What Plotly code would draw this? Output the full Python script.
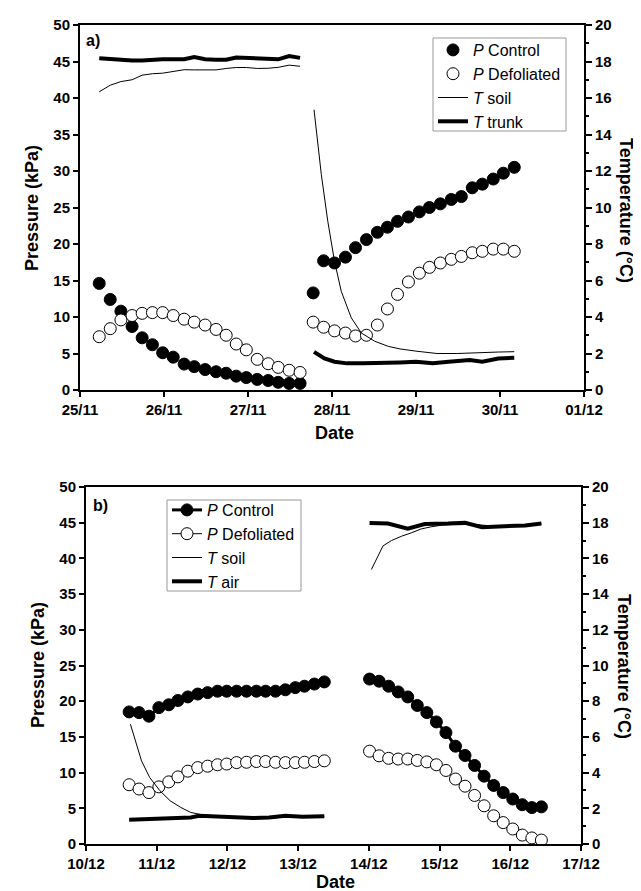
import plotly.graph_objects as go
from plotly.subplots import make_subplots

# ---------------- Panel a) data (x = days after 25/11 00:00) ----------------
a_tick_labels = ["25/11", "26/11", "27/11", "28/11", "29/11", "30/11", "01/12"]

a_x1 = [0.229, 0.36, 0.487, 0.62, 0.74, 0.862, 0.984, 1.11, 1.24, 1.36,
        1.49, 1.62, 1.74, 1.86, 1.98, 2.11, 2.24, 2.36, 2.49, 2.62]
a_ctrl1 = [14.6, 12.4, 10.8, 8.7, 7.15, 6.2, 5.1, 4.5, 3.55, 3.2,
           2.8, 2.5, 2.3, 1.9, 1.7, 1.45, 1.3, 1.05, 0.9, 0.9]
a_def1 = [7.3, 8.4, 9.6, 10.2, 10.5, 10.6, 10.6, 10.2, 9.7, 9.3,
          8.9, 8.3, 7.5, 6.3, 5.5, 4.2, 3.6, 3.1, 2.7, 2.4]
a_trunk1 = [18.18, 18.12, 18.07, 18.05, 18.05, 18.1, 18.12, 18.12, 18.13, 18.25,
            18.12, 18.1, 18.1, 18.22, 18.2, 18.13, 18.15, 18.12, 18.3, 18.2]
a_soil1 = [16.34, 16.7, 16.9, 17.0, 17.25, 17.33, 17.36, 17.45, 17.55, 17.54,
           17.54, 17.54, 17.62, 17.67, 17.67, 17.62, 17.63, 17.68, 17.8, 17.74]

a_x2 = [2.776, 2.90, 3.03, 3.16, 3.28, 3.41, 3.54, 3.66, 3.78, 3.91,
        4.04, 4.16, 4.29, 4.42, 4.54, 4.67, 4.79, 4.92, 5.04, 5.17]
a_ctrl2 = [13.3, 17.7, 17.4, 18.2, 19.5, 20.6, 21.6, 22.3, 23.1, 23.7,
           24.4, 25.0, 25.5, 26.1, 26.5, 27.7, 28.2, 28.9, 29.7, 30.5]
a_def2 = [9.3, 8.6, 8.1, 7.8, 7.4, 7.5, 8.9, 11.1, 13.1, 14.8,
          16.0, 16.8, 17.4, 17.9, 18.3, 18.8, 19.0, 19.3, 19.3, 19.0]

a_soil2_x = [2.786, 2.873, 2.95, 3.03, 3.11, 3.23, 3.35, 3.51, 3.67, 3.81,
             4.0, 4.25, 4.49, 4.73, 4.98, 5.17]
a_soil2 = [15.36, 11.8, 9.24, 7.05, 5.41, 3.95, 3.12, 2.67, 2.39, 2.25,
           2.13, 2.0, 2.0, 2.02, 2.08, 2.1]
a_trunk2_x = [2.786, 2.91, 3.03, 3.18, 3.37, 3.61, 3.81, 4.0, 4.2, 4.39,
              4.64, 4.79, 4.98, 5.17]
a_trunk2 = [2.09, 1.73, 1.55, 1.46, 1.46, 1.46, 1.51, 1.55, 1.46, 1.55,
            1.64, 1.55, 1.73, 1.77]

# ---------------- Panel b) data (x = days after 10/12 00:00) ----------------
b_tick_labels = ["10/12", "11/12", "12/12", "13/12", "14/12", "15/12", "16/12", "17/12"]

b_x1 = [0.61, 0.75, 0.89, 1.03, 1.17, 1.30, 1.44, 1.58, 1.72, 1.86, 1.99,
        2.13, 2.27, 2.41, 2.54, 2.68, 2.82, 2.96, 3.09, 3.23, 3.37]
b_ctrl1 = [18.5, 18.4, 17.9, 19.1, 19.5, 20.1, 20.6, 21.0, 21.2, 21.4, 21.4,
           21.4, 21.4, 21.4, 21.4, 21.4, 21.6, 21.9, 22.1, 22.4, 22.7]
b_def1 = [8.3, 7.7, 7.2, 8.0, 8.7, 9.4, 10.2, 10.7, 10.9, 11.1, 11.2,
          11.4, 11.45, 11.55, 11.55, 11.45, 11.4, 11.4, 11.45, 11.55, 11.65]

b_x2 = [4.01, 4.145, 4.28, 4.415, 4.55, 4.685, 4.82, 4.955, 5.09, 5.225,
        5.36, 5.495, 5.63, 5.765, 5.90, 6.035, 6.17, 6.305, 6.44]
b_ctrl2 = [23.1, 22.8, 22.1, 21.3, 20.6, 19.4, 18.4, 17.1, 15.6, 13.7,
           12.4, 11.0, 9.5, 8.2, 7.2, 6.3, 5.5, 5.1, 5.2]
b_def2 = [13.0, 12.35, 12.0, 11.9, 11.9, 11.7, 11.5, 11.1, 10.3, 9.1,
          8.1, 6.8, 5.35, 3.95, 3.0, 2.1, 1.25, 0.85, 0.55]

b_air1_x = [0.61, 0.9, 1.19, 1.48, 1.6, 1.77, 2.07, 2.36, 2.59, 2.82, 3.06, 3.37]
b_air1 = [1.36, 1.4, 1.44, 1.49, 1.58, 1.55, 1.45, 1.45, 1.49, 1.58, 1.52, 1.55]
b_soil1_x = [0.628, 0.698, 0.785, 0.90, 1.047, 1.19, 1.34, 1.48, 1.66, 1.89,
             2.12, 2.36, 2.65, 2.94, 3.37]
b_soil1 = [6.71, 5.78, 4.66, 3.73, 2.98, 2.42, 2.05, 1.77, 1.62, 1.55,
           1.49, 1.46, 1.46, 1.55, 1.55]
b_air2_x = [4.01, 4.27, 4.55, 4.79, 5.12, 5.36, 5.6, 5.97, 6.21, 6.44]
b_air2 = [17.99, 17.95, 17.67, 17.93, 17.95, 17.99, 17.75, 17.8, 17.85, 17.95]
b_soil2_x = [4.036, 4.11, 4.2, 4.32, 4.46, 4.6, 4.74, 4.88, 5.03, 5.36, 5.79, 6.44]
b_soil2 = [15.38, 16.0, 16.7, 17.0, 17.24, 17.43, 17.65, 17.77, 17.86, 17.95, 17.8, 17.93]


def join(a, b):
    return list(a) + [None] + list(b)


W, H = 641, 891


def px(x):
    return x / W


def py(y):
    return 1 - y / H


FONT = "Liberation Sans, Arial, sans-serif"
BLACK = "black"

fig = make_subplots(rows=2, cols=1, specs=[[{"secondary_y": True}], [{"secondary_y": True}]])

# ---- panel a traces ----
fig.add_trace(go.Scatter(x=join(a_x1, a_x2), y=join(a_ctrl1, a_ctrl2), mode="markers",
                         name="<i>P</i> Control", legend="legend",
                         marker=dict(size=12, color=BLACK, line=dict(color=BLACK, width=1))),
              row=1, col=1, secondary_y=False)
fig.add_trace(go.Scatter(x=join(a_x1, a_x2), y=join(a_def1, a_def2), mode="markers",
                         name="<i>P</i> Defoliated", legend="legend",
                         marker=dict(size=12, color="white", line=dict(color=BLACK, width=1))),
              row=1, col=1, secondary_y=False)
fig.add_trace(go.Scatter(x=join(a_x1, a_soil2_x), y=join(a_soil1, a_soil2), mode="lines",
                         name="<i>T</i> soil", legend="legend",
                         line=dict(color=BLACK, width=1)),
              row=1, col=1, secondary_y=True)
fig.add_trace(go.Scatter(x=join(a_x1, a_trunk2_x), y=join(a_trunk1, a_trunk2), mode="lines",
                         name="<i>T</i> trunk", legend="legend",
                         line=dict(color=BLACK, width=4)),
              row=1, col=1, secondary_y=True)

# ---- panel b traces ----
fig.add_trace(go.Scatter(x=join(b_x1, b_x2), y=join(b_ctrl1, b_ctrl2), mode="lines+markers",
                         name="<i>P</i> Control", legend="legend2",
                         line=dict(color=BLACK, width=3),
                         marker=dict(size=12, color=BLACK, line=dict(color=BLACK, width=1))),
              row=2, col=1, secondary_y=False)
fig.add_trace(go.Scatter(x=join(b_x1, b_x2), y=join(b_def1, b_def2), mode="lines+markers",
                         name="<i>P</i> Defoliated", legend="legend2",
                         line=dict(color=BLACK, width=1),
                         marker=dict(size=12, color="white", line=dict(color=BLACK, width=1))),
              row=2, col=1, secondary_y=False)
fig.add_trace(go.Scatter(x=join(b_soil1_x, b_soil2_x), y=join(b_soil1, b_soil2), mode="lines",
                         name="<i>T</i> soil", legend="legend2",
                         line=dict(color=BLACK, width=1)),
              row=2, col=1, secondary_y=True)
fig.add_trace(go.Scatter(x=join(b_air1_x, b_air2_x), y=join(b_air1, b_air2), mode="lines",
                         name="<i>T</i> air", legend="legend2",
                         line=dict(color=BLACK, width=4)),
              row=2, col=1, secondary_y=True)

tickfont = dict(family=FONT, size=15, color=BLACK, weight="bold")
common_axis = dict(showgrid=False, zeroline=False, showline=True, linecolor=BLACK, linewidth=2,
                   ticks="outside", tickcolor=BLACK, tickwidth=2, tickfont=tickfont, automargin=False)
minor_t = dict(dtick=1, ticks="outside", ticklen=3, tickwidth=2, tickcolor=BLACK)
legend_font = dict(family=FONT, size=16, color=BLACK)

fig.update_layout(
    width=W, height=H,
    margin=dict(l=0, r=0, t=0, b=0),
    plot_bgcolor="white", paper_bgcolor="white",
    font=dict(family=FONT, color=BLACK),
    xaxis=dict(domain=[px(72), px(576)], range=[0, 6], tickvals=list(range(len(a_tick_labels))),
               ticktext=a_tick_labels, ticklen=5, mirror=True, **common_axis),
    xaxis2=dict(domain=[px(78), px(573)], range=[0, 7], tickvals=list(range(len(b_tick_labels))),
                ticktext=b_tick_labels, ticklen=5, mirror=True, **common_axis),
    yaxis=dict(domain=[py(382), py(17)], range=[0, 50], dtick=5, ticklen=5, **common_axis),
    yaxis2=dict(range=[0, 20], dtick=2, ticklen=6, side="right", minor=minor_t, **common_axis),
    yaxis3=dict(domain=[py(836), py(479)], range=[0, 50], dtick=5, ticklen=5, **common_axis),
    yaxis4=dict(range=[0, 20], dtick=2, ticklen=6, side="right", minor=minor_t, **common_axis),
    legend=dict(x=px(425), y=py(25), xanchor="left", yanchor="top",
                borderwidth=0, bgcolor="rgba(0,0,0,0)", font=legend_font, tracegroupgap=0),
    legend2=dict(x=px(159), y=py(485), xanchor="left", yanchor="top",
                 borderwidth=0, bgcolor="rgba(0,0,0,0)", font=legend_font, tracegroupgap=0),
)

# legend frames
for (x0, y0, x1, y1) in [(425, 30, 558, 123), (159, 492, 293, 583)]:
    fig.add_shape(type="rect", xref="paper", yref="paper",
                  x0=px(x0), x1=px(x1), y0=py(y1), y1=py(y0),
                  line=dict(color="#999999", width=1), fillcolor="white", layer="below")

title_font = dict(family=FONT, size=18, color=BLACK, weight="bold")
label_font = dict(family=FONT, size=16, color=BLACK, weight="bold")
annots = [
    dict(text="Pressure (kPa)", x=px(24), y=py(200), textangle=-90, font=title_font),
    dict(text="Temperature (°C)", x=px(618), y=py(202), textangle=90, font=title_font),
    dict(text="Date", x=px(326), y=py(425), font=title_font),
    dict(text="Pressure (kPa)", x=px(30), y=py(657), textangle=-90, font=title_font),
    dict(text="Temperature (°C)", x=px(616), y=py(658), textangle=90, font=title_font),
    dict(text="Date", x=px(327), y=py(874), font=title_font),
    dict(text="a)", x=px(76), y=py(32), xanchor="left", font=label_font),
    dict(text="b)", x=px(83), y=py(497), xanchor="left", font=label_font),
]
for a in annots:
    a.setdefault("xanchor", "center")
    fig.add_annotation(xref="paper", yref="paper", showarrow=False, yanchor="middle", **a)

fig.write_html("out.html")
